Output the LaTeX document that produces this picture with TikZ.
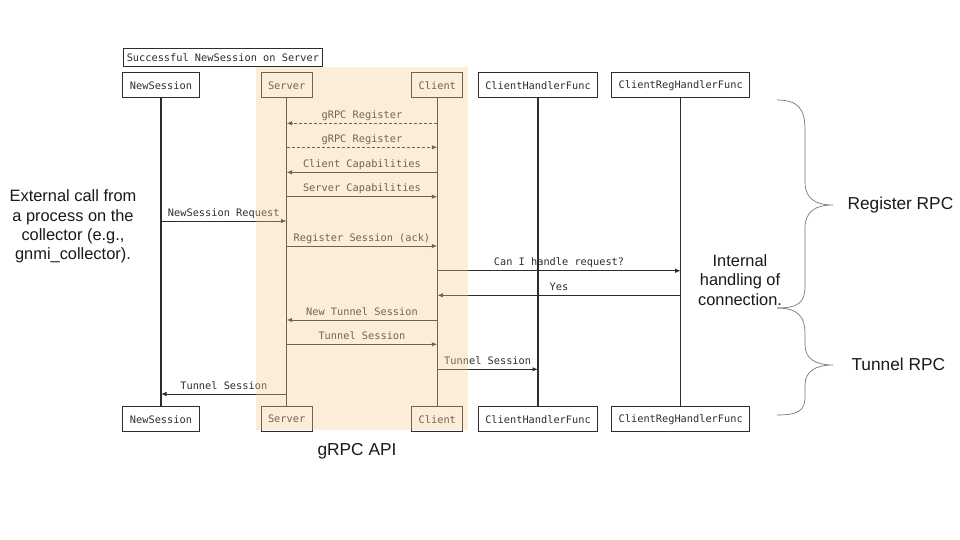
\documentclass[tikz,border=0pt]{standalone}
\usepackage{fontspec}
\setmainfont{Liberation Sans}
\newfontfamily\seqmono{DejaVu Sans Mono}
\usetikzlibrary{arrows.meta}
\definecolor{apitint}{RGB}{246,203,145}
\definecolor{inkdark}{RGB}{45,45,45}
\definecolor{bracegray}{RGB}{120,120,120}
\begin{document}
\begin{tikzpicture}[x=1pt,y=-1pt,
  actor/.style={draw=inkdark, line width=1pt, fill=white, text=inkdark,
    font=\seqmono\fontsize{10.3}{12}\selectfont,
    minimum height=25pt, inner xsep=7pt, inner ysep=0pt},
  titlebox/.style={actor, minimum height=18.5pt, inner xsep=3.5pt},
  life/.style={draw=inkdark, line width=1.1pt},
  msg/.style={draw=inkdark, line width=1pt, -{Latex[length=5.5pt,width=4.5pt]}},
  dmsg/.style={msg, dash pattern=on 3pt off 2pt},
  lbl/.style={midway, anchor=base, yshift=5pt, inner sep=0pt, text=inkdark,
    font=\seqmono\fontsize{10.3}{12}\selectfont},
  note/.style={align=center, text=black!90, font=\fontsize{16.4}{19.3}\selectfont},
  tag/.style={text=black!90, font=\fontsize{17.3}{20}\selectfont},
  brace/.style={draw=bracegray, line width=0.7pt}
]
\useasboundingbox (0,0) rectangle (960,540);

% title
\node[titlebox] (title) at (222.9,57.5) {Successful NewSession on Server};

% participants, top and bottom
\node[actor] (ns)   at (161,85.5)   {NewSession};
\node[actor] (srv)  at (286.6,85.5) {Server};
\node[actor] (cli)  at (437.3,85.5) {Client};
\node[actor] (chf)  at (538,85.5)   {ClientHandlerFunc};
\node[actor] (crhf) at (680.7,85.5) {ClientRegHandlerFunc};

\node[actor] (nsB)   at (161,419.2)   {NewSession};
\node[actor] (srvB)  at (286.6,419.2) {Server};
\node[actor] (cliB)  at (437.3,419.2) {Client};
\node[actor] (chfB)  at (538,419.2)   {ClientHandlerFunc};
\node[actor] (crhfB) at (680.7,419.2) {ClientRegHandlerFunc};

% lifelines
\draw[life] (ns.south) -- (nsB.north);
\draw[life] (srv.south) -- (srvB.north);
\draw[life] (cli.south) -- (cliB.north);
\draw[life] (chf.south) -- (chfB.north);
\draw[life] (crhf.south) -- (crhfB.north);

% message rows
\coordinate (r1)  at (0,123.3);
\coordinate (r2)  at (0,147.3);
\coordinate (r3)  at (0,172.3);
\coordinate (r4)  at (0,196.7);
\coordinate (r5)  at (0,221.0);
\coordinate (r6)  at (0,246.0);
\coordinate (r7)  at (0,270.7);
\coordinate (r8)  at (0,295.3);
\coordinate (r9)  at (0,320.0);
\coordinate (r10) at (0,344.3);
\coordinate (r11) at (0,369.3);
\coordinate (r12) at (0,394.0);

% messages
\draw[dmsg] (cli |- r1) -- node[lbl] {gRPC Register} (srv |- r1);
\draw[dmsg] (srv |- r2) -- node[lbl] {gRPC Register} (cli |- r2);
\draw[msg] (cli |- r3) -- node[lbl] {Client Capabilities} (srv |- r3);
\draw[msg] (srv |- r4) -- node[lbl] {Server Capabilities} (cli |- r4);
\draw[msg] (ns |- r5) -- node[lbl] {NewSession Request} (srv |- r5);
\draw[msg] (srv |- r6) -- node[lbl] {Register Session (ack)} (cli |- r6);
\draw[msg] (cli |- r7) -- node[lbl] {Can I handle request?} (crhf |- r7);
\draw[msg] (crhf |- r8) -- node[lbl] {Yes} (cli |- r8);
\draw[msg] (cli |- r9) -- node[lbl] {New Tunnel Session} (srv |- r9);
\draw[msg] (srv |- r10) -- node[lbl] {Tunnel Session} (cli |- r10);
\draw[msg] (cli |- r11) -- node[lbl] {Tunnel Session} (chf |- r11);
\draw[msg] (srv |- r12) -- node[lbl] {Tunnel Session} (ns |- r12);

% gRPC API highlight band
\fill[apitint, fill opacity=0.345] (256,67.3) rectangle (467.7,430);
\node[tag] (api) at (357,451) {gRPC API};

% side notes
\node[note] (ext) at (73,226.5) {External call from\\a process on the\\collector (e.g.,\\gnmi\_collector).};
\node[note] (int) at (740,280) {Internal\\handling of\\connection.};

% braces
\draw[brace] (777,100) .. controls (799,100) and (805,110) .. (805,130)
  -- (805,182) .. controls (805,199) and (816,205) .. (833,205)
  .. controls (816,205) and (805,211) .. (805,228)
  -- (805,286) .. controls (805,302) and (799,308) .. (777,308);
\draw[brace] (777,308) .. controls (799,308) and (805,318) .. (805,333)
  -- (805,345) .. controls (805,359) and (816,365) .. (833,365)
  .. controls (816,365) and (805,371) .. (805,385)
  -- (805,397) .. controls (805,410) and (799,415) .. (777,415);
\node[tag, anchor=west] (reg) at (844,205) {Register RPC};
\node[tag, anchor=west] (tun) at (848,364) {Tunnel RPC};
\end{tikzpicture}
\end{document}
